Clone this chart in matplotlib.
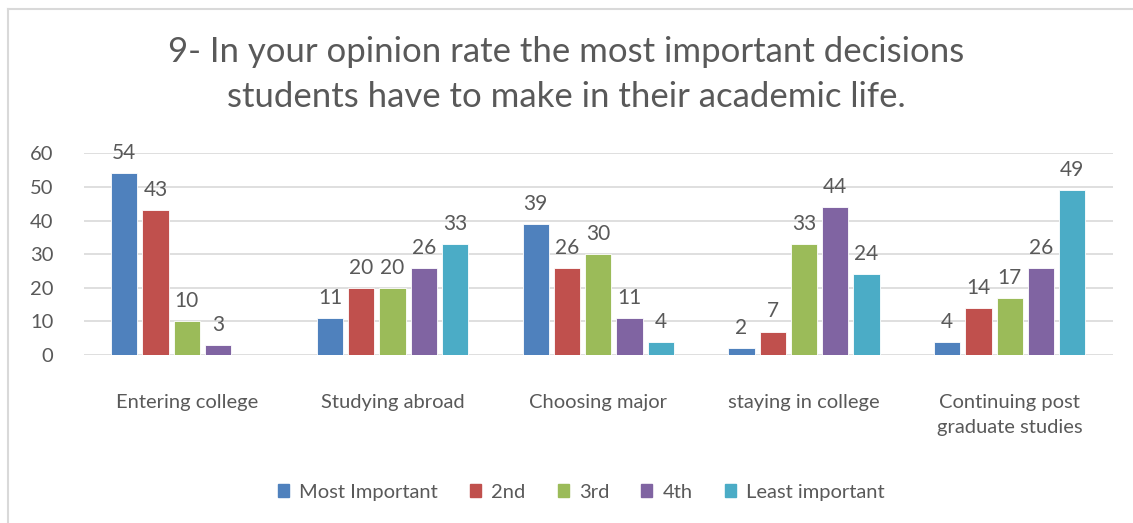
import numpy as np
import matplotlib.pyplot as plt
from matplotlib.lines import Line2D

plt.rcParams['font.family'] = ['Lato', 'DejaVu Sans']

# Data
categories = ['Entering college', 'Studying abroad', 'Choosing major',
              'staying in college', 'Continuing post\ngraduate studies']
series_names = ['Most Important', '2nd', '3rd', '4th', 'Least important']
most_important = [54, 11, 39, 2, 4]
second = [43, 20, 26, 7, 14]
third = [10, 20, 30, 33, 17]
fourth = [3, 26, 11, 44, 26]
least_important = [None, 33, 4, 24, 49]
series = [most_important, second, third, fourth, least_important]
colors = ['#4F81BD', '#C0504D', '#9BBB59', '#8064A2', '#4BACC6']

text_color = '#595959'

fig = plt.figure(figsize=(11.33, 5.23), dpi=100)
ax = fig.add_axes([0.074, 0.321, 0.908, 0.386])

x = np.arange(len(categories))
step = 0.152
width = 0.128
for i, (vals, name, col) in enumerate(zip(series, series_names, colors)):
    pos = x + (i - 2) * step
    for p, v in zip(pos, vals):
        if v is None:
            continue
        ax.bar(p, v, width, color=col, edgecolor='white', linewidth=0.6)
        ax.text(p, v + 3.0, str(v), ha='center', va='bottom',
                fontsize=15, color=text_color)

ax.set_xlim(-0.5, len(categories) - 0.5)
ax.set_ylim(0, 60)
ax.set_yticks(range(0, 61, 10))
ax.yaxis.grid(True, color='#D9D9D9', linewidth=1.2)
ax.set_axisbelow(True)
for s in ax.spines.values():
    s.set_visible(False)
ax.tick_params(axis='y', length=0, labelsize=14.5, labelcolor=text_color, pad=22)
ax.tick_params(axis='x', length=0, labelsize=14.5, labelcolor=text_color, pad=28)
ax.set_xticks(x)
ax.set_xticklabels(categories, linespacing=1.55)

fig.text(0.5, 0.857, '9- In your opinion rate the most important decisions\n'
         'students have to make in their academic life.',
         ha='center', va='center', fontsize=25, color=text_color, linespacing=1.5)

handles = [plt.Rectangle((0, 0), 1, 1, color=c) for c in colors]
fig.legend(handles, series_names, loc='center', bbox_to_anchor=(0.513, 0.059),
           ncol=5, frameon=False, fontsize=14.5, labelcolor=text_color,
           handlelength=0.55, handleheight=0.6, handletextpad=0.5, columnspacing=1.6)

# chart border (top and left visible)
fig.add_artist(Line2D([8 / 1133, 1], [1 - 9 / 523, 1 - 9 / 523],
                      transform=fig.transFigure, color='#D9D9D9', linewidth=1.5))
fig.add_artist(Line2D([8 / 1133, 8 / 1133], [0, 1 - 9 / 523],
                      transform=fig.transFigure, color='#D9D9D9', linewidth=1.5))

fig.savefig('out.png', dpi=100)
